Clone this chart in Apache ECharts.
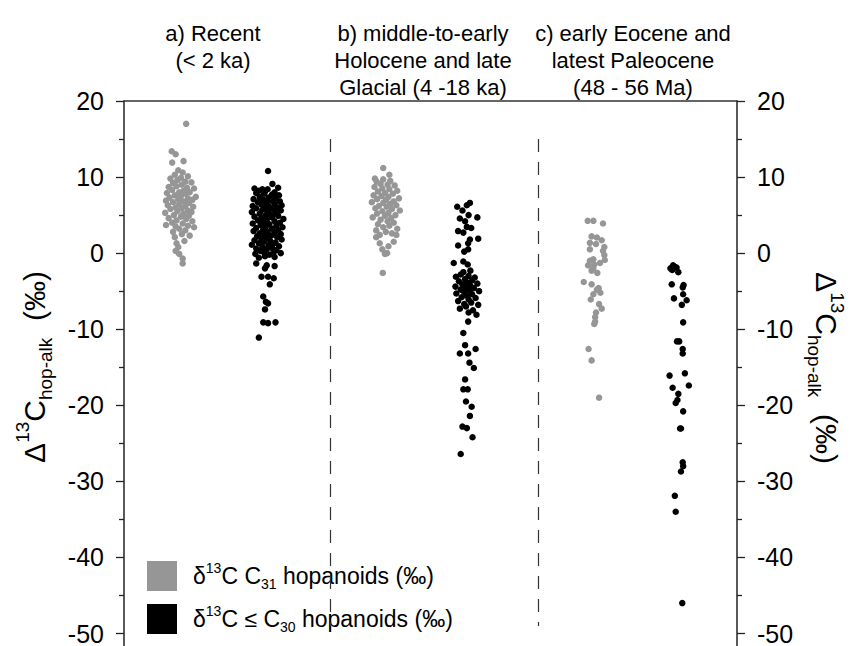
<!DOCTYPE html>
<html>
<head>
<meta charset="utf-8">
<script src="https://cdn.jsdelivr.net/npm/echarts@6/dist/echarts.min.js"></script>
<style>
  html, body { margin: 0; padding: 0; background: #fff; }
  #chart { width: 850px; height: 646px; }
</style>
</head>
<body>
<div id="chart"></div>
<script>
// group centres on the (hidden) x scale, and dashed separators between periods
var centers = [6.4, 16.3, 29.8, 39.05, 54.0, 63.6];
var dividerX = [23.5, 47.3];
var yMajor = [20, 10, 0, -10, -20, -30, -40, -50];
var yMinor = [15, 5, -5, -15, -25, -35, -45];

// each point: [x jitter, delta13C hop-alk (permil)]
var recentC31 = [
  [0.7,17.0],[-0.95,13.4],[-0.5,13.0],[-0.9,11.9],[0.4,12.1],
  [-0.2,10.9],[0.3,10.6],[-0.6,10.3],[0.9,10.1],[-1.1,9.8],[0.1,9.9],[-0.3,9.6],[0.6,9.4],[1.3,9.3],[-0.8,9.2],
  [0.2,9.0],[-1.3,8.7],[-0.4,8.8],[0.8,8.6],[1.6,8.5],[-0.9,8.3],[0.4,8.2],[-0.1,8.0],[1.1,8.0],[-1.5,7.9],
  [0.6,7.8],[-0.6,7.6],[1.8,7.4],[0.1,7.5],[-1.2,7.3],[0.9,7.2],[-0.2,7.1],[1.4,7.0],[-1.6,6.9],[0.4,6.8],
  [-0.8,6.7],[1.0,6.6],[-0.1,6.5],[-1.4,6.3],[0.6,6.2],[1.5,6.1],[-0.5,6.0],[0.2,5.9],
  [-1.1,5.8],[0.9,5.6],[-0.3,5.5],[1.3,5.4],[-1.7,5.3],[0.4,5.2],[-0.7,5.0],
  [1.0,4.9],[0.1,4.8],[-1.3,4.6],[0.7,4.5],[-0.4,4.3],[1.4,4.2],[-0.9,4.0],
  [0.3,3.9],[-1.6,3.7],[0.9,3.6],[-0.5,3.5],[1.6,3.4],[-0.1,3.2],[0.6,3.0],
  [-0.8,2.8],[0.2,2.5],[1.1,2.3],[-0.6,2.1],[0.5,1.6],[-0.4,1.3],[-0.2,0.8],
  [-0.1,-0.1],[0.3,-0.7],[0.3,-1.35],[-0.5,0.3]
];
var recentC30 = [
  [0.15,10.8],[-1.4,8.5],[-0.5,8.4],[0.1,8.4],[0.65,9.1],[1.3,8.6],[-0.9,8.2],[-0.2,8.1],[0.9,8.0],
  [-1.2,7.9],[-0.3,7.8],[0.6,7.7],[1.4,7.6],[-0.8,7.4],[0.2,7.3],[1.0,7.2],[-1.5,7.1],[-0.4,7.0],[0.5,6.9],
  [1.5,6.8],[-1.0,6.7],[0.0,6.6],[0.9,6.5],[-0.6,6.4],[1.7,6.3],[-1.6,6.2],[0.3,6.1],[-0.2,6.0],[1.2,6.0],
  [-1.2,5.9],[0.7,5.8],[-0.5,5.7],[1.6,5.6],[0.1,5.5],[-1.7,5.4],[1.0,5.3],[-0.8,5.2],[0.4,5.1],[-0.1,5.0],
  [1.3,4.9],[-1.4,4.8],[0.6,4.7],[-0.6,4.6],[1.9,4.5],[0.0,4.4],[-1.0,4.3],[0.9,4.2],[-0.3,4.1],[1.5,4.0],
  [-1.6,3.9],[0.3,3.8],[-0.7,3.7],[1.1,3.6],[-0.1,3.5],[1.8,3.4],[-1.2,3.3],[0.6,3.2],[-0.4,3.1],[1.3,3.0],
  [-1.5,2.9],[0.1,2.8],[0.9,2.7],[-0.8,2.6],[1.6,2.5],[-0.2,2.4],[0.5,2.3],[-1.1,2.2],[1.2,2.1],[0.0,2.0],
  [-0.6,1.9],[1.7,1.8],[-1.4,1.7],[0.4,1.6],[-0.3,1.5],[1.0,1.4],[-0.9,1.3],[0.7,1.2],[-1.7,1.1],[0.2,1.0],
  [1.4,0.9],[-0.5,0.8],[0.6,0.7],[-1.2,0.6],[0.0,0.5],[1.1,0.4],[-0.7,0.3],[0.8,0.2],[-0.3,0.1],[1.6,0.0],
  [-1.3,-0.1],[0.3,-0.2],[-0.2,-0.4],[0.9,-0.5],[-0.9,-0.6],
  [-1.2,-1.35],[0.0,-1.6],[0.9,-1.7],[-0.2,-2.0],[-0.6,-3.1],[0.15,-3.1],[0.8,-3.3],[0.35,-4.1],
  [-0.4,-5.7],[-0.1,-6.4],[0.15,-6.6],[-0.2,-7.4],[-0.4,-9.1],[0.15,-9.2],[1.0,-9.1],[-0.9,-11.1]
];
var holoceneC31 = [
  [-0.2,11.2],[-1.15,9.8],[0.5,10.3],[-0.95,9.4],[-0.2,9.7],[0.6,9.5],[-0.5,9.1],[0.3,9.0],[1.1,8.9],[-1.2,8.7],
  [-0.3,8.5],[0.5,8.4],[1.4,8.2],[-0.8,8.1],[0.0,7.9],[0.9,7.8],[-1.3,7.6],[-0.4,7.5],[0.4,7.4],[1.6,7.2],
  [-0.9,7.1],[0.1,7.0],[1.0,6.8],[-1.5,6.7],[-0.2,6.6],[0.6,6.5],[1.3,6.3],[-0.7,6.2],[0.2,6.1],[-1.1,5.9],
  [0.8,5.8],[1.7,5.6],[-0.3,5.5],[0.4,5.3],[-0.9,5.2],[1.2,5.0],[0.0,4.9],[-1.4,4.7],[0.7,4.6],[-0.5,4.4],
  [0.3,4.2],[1.0,4.0],[-0.8,3.8],[0.5,3.6],[-0.2,3.4],[1.4,3.2],[-1.0,3.0],[0.1,2.8],[0.8,2.6],[-0.6,2.4],
  [1.3,2.4],[-1.0,2.1],[-0.6,1.3],[0.4,0.9],[1.0,1.5],[0.0,-0.1],[0.25,0.0],[-0.3,0.5],[-0.25,-2.6]
];
var holoceneC30 = [
  [0.45,6.6],[0.1,6.3],[-1.0,6.1],[-0.4,5.6],[1.3,4.7],[-0.7,4.55],[0.3,5.0],[-0.1,4.2],
  [0.1,3.45],[0.6,3.3],[-0.9,2.9],[-0.3,2.7],[1.4,1.9],[0.45,1.8],[-0.9,1.0],[0.25,1.3],[0.25,0.5],[-0.2,0.2],
  [-1.4,-1.3],[-0.3,-1.1],[0.2,-1.5],[-1.15,-3.1],[-0.3,-2.5],[0.5,-2.3],
  [-0.6,-2.8],[0.3,-3.0],[1.0,-3.2],[-0.1,-3.4],[0.7,-3.6],[-0.8,-3.7],[0.2,-3.9],[1.3,-4.0],[-0.4,-4.1],[0.5,-4.3],
  [-1.2,-4.4],[0.0,-4.5],[0.9,-4.6],[-0.6,-4.8],[0.4,-4.9],[1.5,-5.0],[-0.2,-5.1],[-1.1,-5.3],[0.7,-5.4],[0.1,-5.6],
  [-0.5,-5.8],[1.1,-5.9],[0.3,-6.1],[-0.9,-6.3],[0.6,-6.5],[-0.2,-6.7],[1.4,-6.8],[0.0,-7.0],[-0.7,-7.3],[0.8,-7.5],
  [0.3,-7.8],[1.2,-8.1],[0.25,-9.0],
  [-0.3,-10.5],[-0.1,-12.1],[-0.7,-13.2],[0.25,-13.2],[1.1,-12.6],[0.4,-14.4],[0.9,-15.1],[-0.1,-16.6],
  [-0.3,-17.9],[0.2,-17.9],[0.0,-19.5],[0.65,-20.2],[0.45,-21.4],[-0.4,-22.8],[0.1,-23.0],[0.75,-24.2],[-0.6,-26.4]
];
var eoceneC31 = [
  [-1.05,4.25],[-0.4,4.25],[0.7,3.9],[-0.6,2.2],[0.0,2.06],[0.55,1.7],[-0.8,1.35],[-0.1,1.2],[0.85,0.8],
  [-0.8,0.5],[0.7,0.3],[0.85,-0.26],[-0.4,-0.8],[-0.8,-1.0],[0.9,-0.9],[-0.3,-1.5],[-1.0,-1.6],[0.35,-1.3],
  [-0.6,-2.3],[0.05,-2.6],[-0.4,-2.0],
  [-1.5,-3.8],[-0.6,-4.1],[0.0,-4.8],[0.4,-5.2],[-0.4,-5.4],[0.2,-4.6],[-0.7,-6.1],[0.25,-6.7],[0.55,-7.3],
  [-0.1,-7.8],[-0.2,-8.4],[-0.3,-9.3],[-0.2,-9.0],[-0.95,-12.6],[-0.6,-14.1],[0.25,-19.0]
];
var eoceneC30 = [
  [-0.9,-1.6],[-1.2,-2.0],[-0.7,-1.8],[-0.3,-2.5],[-1.0,-2.2],[-0.5,-1.9],[-1.05,-4.1],[0.2,-4.5],[0.3,-4.2],
  [0.25,-5.4],[-0.8,-5.95],[0.65,-6.2],[0.1,-6.8],[0.25,-9.1],[-0.45,-11.6],[-0.2,-11.6],[0.2,-12.6],[0.2,-13.2],
  [-1.3,-16.1],[0.45,-15.8],[-0.95,-17.7],[0.9,-17.4],[-0.3,-18.5],[-0.6,-19.7],[-0.4,-19.3],[0.25,-20.8],
  [-0.1,-23.05],[0.0,-23.05],[0.2,-27.5],[0.25,-28.0],[0.0,-28.7],[-0.7,-31.9],[-0.6,-34.0],[0.15,-46.0]
];

var groupsC31 = [[recentC31, 0], [holoceneC31, 2], [eoceneC31, 4]];
var groupsC30 = [[recentC30, 1], [holoceneC30, 3], [eoceneC30, 5]];

function place(groups) {
  var out = [];
  groups.forEach(function (g) {
    g[0].forEach(function (p) { out.push([centers[g[1]] + p[0], p[1]]); });
  });
  return out;
}

var FONT = '"Liberation Sans", Arial, sans-serif';
var grayC = '#969696';

var myChart = echarts.init(document.getElementById('chart'), null, {renderer: 'svg'});

// major axis (line, long ticks, labels) and a second one on the same side for the short 5-unit ticks
function yAxisCfg(pos, minor) {
  return {
    type: 'value', position: pos, min: -51.6, max: 20,
    axisLine: {show: !minor, onZero: false, lineStyle: {color: '#222', width: 1.5}},
    axisTick: {show: true, inside: false, length: minor ? 5 : 8, customValues: minor ? yMinor : yMajor,
      lineStyle: {color: '#222', width: 1.3}},
    splitLine: {show: false},
    axisLabel: {
      show: !minor, customValues: yMajor,
      margin: 20, color: '#000', fontSize: 25, fontFamily: FONT
    }
  };
}

var titleRich = {
  m: {fontSize: 30, fontFamily: FONT, color: '#000', lineHeight: 42},
  sup: {fontSize: 19, fontFamily: FONT, color: '#000', lineHeight: 19, verticalAlign: 'top'},
  sub: {fontSize: 19, fontFamily: FONT, color: '#000', lineHeight: 19, verticalAlign: 'bottom'}
};
var titleText = '{m|Δ}{sup|13}{m|C}{sub|hop-alk}{m|  (‰)}';

var option = {
  animation: false,
  backgroundColor: '#fff',
  grid: {left: 124, top: 101, right: 113, bottom: 0},
  xAxis: {
    type: 'value', position: 'top', min: 0, max: 70,
    axisLine: {show: true, onZero: false, lineStyle: {color: '#333', width: 1.5}},
    axisTick: {show: false}, axisLabel: {show: false}, splitLine: {show: false}
  },
  yAxis: [yAxisCfg('left', false), yAxisCfg('right', false), yAxisCfg('left', true), yAxisCfg('right', true)],
  legend: {
    orient: 'vertical', left: 147, top: 561, padding: 0,
    itemWidth: 30, itemHeight: 30, itemGap: 13, icon: 'rect',
    data: ['c31', 'c30'],
    formatter: function (name) {
      return name === 'c31'
        ? '{m|δ}{sup|13}{m|C C}{sub|31}{m| hopanoids (‰)}'
        : '{m|δ}{sup|13}{m|C ≤ C}{sub|30}{m| hopanoids (‰)}';
    },
    textStyle: {
      padding: [0, 0, 0, 11],
      rich: {
        m: {fontSize: 23, fontFamily: FONT, color: '#000', lineHeight: 30},
        sup: {fontSize: 14, fontFamily: FONT, color: '#000', lineHeight: 14, verticalAlign: 'top'},
        sub: {fontSize: 14, fontFamily: FONT, color: '#000', lineHeight: 14, verticalAlign: 'bottom'}
      }
    }
  },
  graphic: [
    {type: 'text', x: 213, y: 20, style: {text: 'a) Recent\n(< 2 ka)', font: '22px ' + FONT, fill: '#000', align: 'center', verticalAlign: 'top', lineHeight: 27}},
    {type: 'text', x: 423, y: 20, style: {text: 'b) middle-to-early\nHolocene and late\nGlacial (4 -18 ka)', font: '22px ' + FONT, fill: '#000', align: 'center', verticalAlign: 'top', lineHeight: 27}},
    {type: 'text', x: 633, y: 20, style: {text: 'c) early Eocene and\nlatest Paleocene\n(48 - 56 Ma)', font: '22px ' + FONT, fill: '#000', align: 'center', verticalAlign: 'top', lineHeight: 27}},
    {type: 'text', x: 34, y: 367, rotation: Math.PI / 2, style: {text: titleText, rich: titleRich, align: 'center', verticalAlign: 'middle'}},
    {type: 'text', x: 826, y: 368, rotation: -Math.PI / 2, style: {text: titleText, rich: titleRich, align: 'center', verticalAlign: 'middle'}}
  ],
  series: [
    {
      name: 'c31', type: 'scatter', symbolSize: 6.5,
      itemStyle: {color: grayC, opacity: 1},
      data: place(groupsC31),
      markLine: {
        silent: true, symbol: 'none', label: {show: false},
        lineStyle: {color: '#333', width: 1.2, type: [13, 10]},
        data: dividerX.map(function (x) { return [{coord: [x, 15]}, {coord: [x, -49]}]; })
      }
    },
    {
      name: 'c30', type: 'scatter', symbolSize: 6.5,
      itemStyle: {color: '#000', opacity: 1},
      data: place(groupsC30)
    }
  ]
};

myChart.setOption(option);
</script>
</body>
</html>
